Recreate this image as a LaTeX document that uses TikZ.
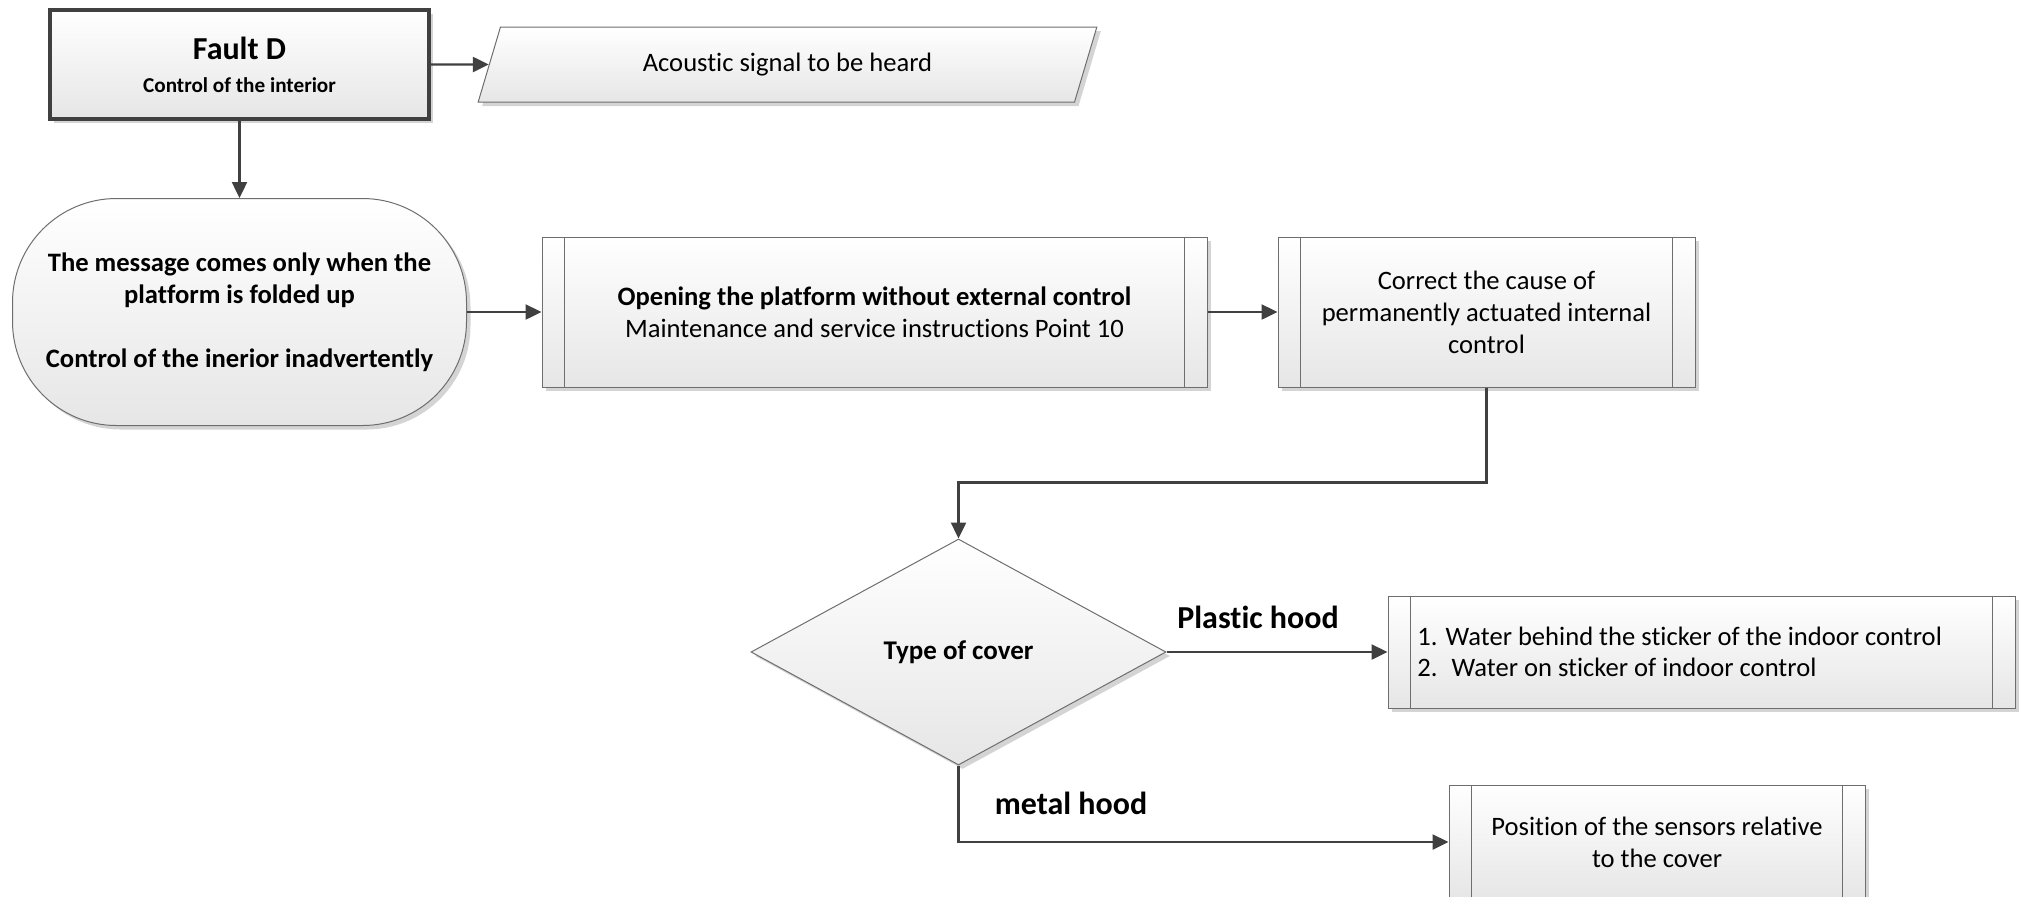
\documentclass[tikz,border=0pt]{standalone}
\usepackage{fontspec}
\setmainfont{Carlito}[Ligatures=NoCommon]
\usetikzlibrary{shapes.geometric,shadows,arrows.meta}
\definecolor{linec}{HTML}{404040}
\definecolor{borderc}{HTML}{6E6E6E}
\definecolor{fillbot}{HTML}{E6E6E6}
\definecolor{shadowc}{HTML}{D4D4D4}
\tikzset{
  base/.style={draw=borderc, line width=0.5pt, top color=white, bottom color=fillbot,
    drop shadow={shadow xshift=2pt, shadow yshift=-2pt, fill=shadowc, opacity=1},
    inner sep=0pt, align=center, font=\fontsize{13.3}{16}\selectfont},
  procbox/.style={base, rectangle},
  conn/.style={draw=linec, line width=1.2pt, -{Triangle[length=8pt,width=7.5pt]}},
  edgelabel/.style={font=\fontsize{16}{18}\selectfont\bfseries, inner sep=0pt},
  innerline/.style={draw=borderc, line width=0.5pt}
}
\begin{document}
\begin{tikzpicture}[x=0.5pt,y=-0.5pt]
\useasboundingbox (0,0) rectangle (2027,896);

\node[procbox, draw=linec, line width=1.75pt, minimum width=189.5pt, minimum height=54.5pt] (fault) at (239.5,64.5)
  {{\fontsize{16}{18}\selectfont\bfseries Fault D}\\[-1.5pt]{\fontsize{10.6}{12}\selectfont\bfseries\raisebox{-2pt}{Control of the interior}}};

\node[base, trapezium, trapezium left angle=64, trapezium right angle=116, trapezium stretches=true,
  minimum width=309.5pt, minimum height=37.5pt] (acoustic) at (787.5,64.5) {Acoustic signal to be heard};

\node[base, rounded corners=52pt, minimum width=227pt, minimum height=113.5pt,
  font=\fontsize{13.3}{16}\selectfont\bfseries] (msg) at (239.5,312)
  {The message comes only when the\\platform is folded up\\[16pt]Control of the inerior inadvertently};

\node[procbox, minimum width=332.5pt, minimum height=75pt] (opening) at (874.5,312)
  {{\bfseries Opening the platform without external control}\\Maintenance and service instructions Point 10};

\node[procbox, minimum width=208.5pt, minimum height=75pt] (correct) at (1486.5,312)
  {Correct the cause of\\permanently actuated internal\\control};

\node[base, diamond, minimum width=207.5pt, minimum height=113pt,
  font=\fontsize{13.5}{16}\selectfont\bfseries] (cover) at (958.5,652) {Type of cover};

\node[procbox, minimum width=313.5pt, minimum height=56pt] (water) at (1701.5,652) {};
\node[anchor=west, align=left, inner sep=0pt, font=\fontsize{13.3}{15.5}\selectfont] (watertext) at (1417,652)
  {1. Water behind the sticker of the indoor control\\2.~ Water on sticker of indoor control};

\node[procbox, minimum width=208pt, minimum height=57pt] (position) at (1657,842)
  {Position of the sensors relative\\to the cover};

\foreach \n in {opening,correct,water,position}{
  \draw[innerline] ([xshift=11.5pt]\n.north west) -- ([xshift=11.5pt]\n.south west)
                   ([xshift=-11.5pt]\n.north east) -- ([xshift=-11.5pt]\n.south east);
}

\draw[conn] (fault) -- (acoustic);
\draw[conn] (fault) -- (msg);
\draw[conn] (msg) -- (opening);
\draw[conn] (opening) -- (correct);
\draw[conn] (correct.south) -- ++(0,95) -| (cover.north);
\draw[conn] (cover) -- (water);
\draw[conn] (cover.south) |- (position.west);

\node[edgelabel] (plastic) at (1258,617) {Plastic hood};
\node[edgelabel] (metal) at (1071,803) {metal hood};
\end{tikzpicture}
\end{document}
